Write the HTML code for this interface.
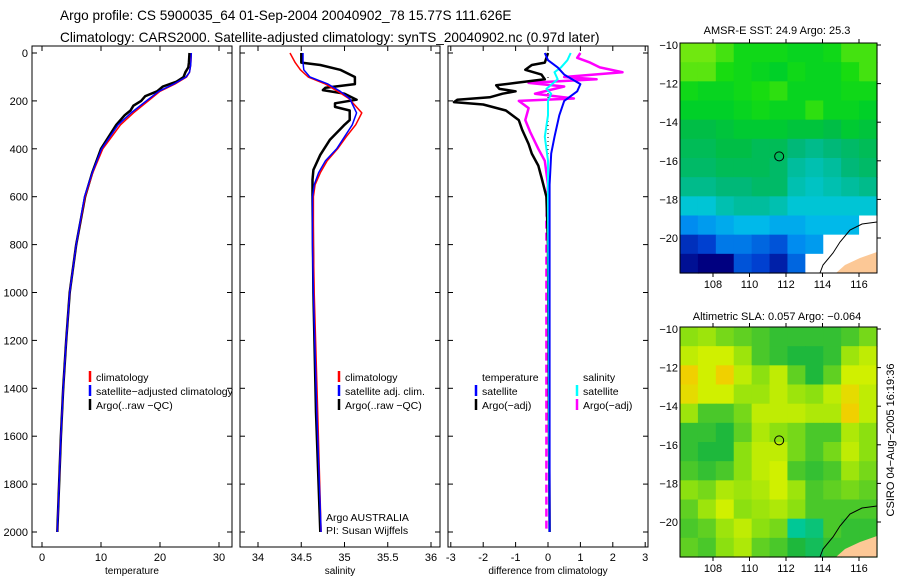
<!DOCTYPE html>
<html><head><meta charset="utf-8"><style>
body{margin:0;background:#fff;width:900px;height:580px;overflow:hidden}
svg{font-family:"Liberation Sans",sans-serif}
text{fill:#000}
</style></head><body>
<svg id="fig" width="900" height="580" viewBox="0 0 900 580">
<text x="60" y="20" font-size="13.6">Argo profile: CS 5900035_64 01-Sep-2004 20040902_78 15.77S 111.626E</text>
<text x="60" y="42" font-size="13.6">Climatology: CARS2000. Satellite-adjusted climatology: synTS_20040902.nc (0.97d later)</text>
<text x="777" y="34" font-size="11" text-anchor="middle">AMSR-E SST: 24.9 Argo: 25.3</text>
<text x="777" y="320" font-size="11" text-anchor="middle">Altimetric SLA: 0.057 Argo: −0.064</text>
<text transform="translate(894,440) rotate(-90)" font-size="11" text-anchor="middle">CSIRO 04−Aug−2005 16:19:36</text>
<g id="g"></g>
</svg>
<script>
// ---- profile data (depth in m) ----
const tDepth = [0,50,80,100,130,160,200,250,300,400,500,600,800,1000,1200,1400,1600,1800,2000];
const tClim  = [25.3,25.2,25.0,24.5,22.5,20.0,18.0,15.5,13.3,10.3,8.6,7.3,5.8,4.7,4.1,3.6,3.2,2.9,2.6];
const tSat   = [25.3,25.2,25.0,24.4,22.3,19.8,17.7,15.1,12.9,10.1,8.5,7.2,5.8,4.7,4.1,3.6,3.2,2.9,2.6];
const tArgoD = [0,40,60,80,100,120,140,160,180,200,220,240,260,300,400,500,600,800,1000,1200,1400,1600,1800,2000];
const tArgo  = [25.0,24.9,24.8,24.3,24.0,22.8,20.5,19.5,17.5,16.8,15.5,15.0,14.0,12.6,10.0,8.5,7.3,5.8,4.7,4.1,3.6,3.2,2.9,2.6];

const sClimD = [0,40,70,100,130,160,190,250,300,350,400,450,500,550,600,800,1000,1500,2000];
const sClim  = [34.37,34.43,34.49,34.58,34.78,34.92,35.05,35.20,35.13,35.02,34.92,34.80,34.72,34.66,34.64,34.64,34.65,34.69,34.73];
const sSat   = [34.52,34.52,34.53,34.60,34.81,34.95,35.06,35.14,35.09,35.00,34.91,34.78,34.70,34.65,34.63,34.63,34.64,34.68,34.73];
const sArgoD = [0,40,50,70,100,130,145,155,170,195,210,225,240,280,300,363,425,488,530,600,1000,1500,2000];
const sArgo  = [34.50,34.50,34.72,34.95,35.12,35.12,34.78,34.75,35.00,35.14,34.89,34.89,35.06,35.06,35.00,34.83,34.72,34.64,34.63,34.63,34.64,34.67,34.72];

const dBlackD = [0,40,50,70,90,110,125,135,150,160,170,185,195,205,215,240,280,320,380,420,470,520,600,800,2000];
const dBlack  = [0,-0.1,-0.5,-0.7,-0.2,-0.1,-1.0,-1.6,-1.5,-1.0,-1.4,-1.8,-2.8,-2.9,-2.0,-1.3,-0.9,-0.8,-0.6,-0.5,-0.3,-0.2,-0.05,0,0.05];
const dBlueD = [0,30,60,90,130,160,200,260,350,420,550,2000];
const dBlue  = [-0.1,0,0.3,0.5,1.0,0.9,0.5,0.35,0.2,0.1,0.05,0.05];
const dCyanD = [0,30,60,80,110,150,170,200,260,350,450,600,2000];
const dCyan  = [0.7,0.6,0.4,0.2,0.3,-0.05,0.1,0,0,-0.1,0,0,0.05];
const dMagD = [0,20,40,60,80,100,110,125,140,170,190,200,230,280,330,400,450,550];
const dMag  = [1.0,0.9,1.3,1.6,2.3,0.5,1.5,-0.6,0.5,-0.4,0.8,-0.9,-0.6,-0.7,-0.55,-0.3,-0.1,0];
const dMagDeepD = [550,700,2000];
const dMagDeep  = [0,-0.05,-0.05];

const depthTicks = [0,200,400,600,800,1000,1200,1400,1600,1800,2000];
const tTicks = [0,10,20,30];
const sTicks = [34,34.5,35,35.5,36];
const dTicks = [-3,-2,-1,0,1,2,3];

// ---- map data (rows from -10.5 to -21.5 lat, cols 106.7..116.7 lon) ----
const sstGrid = [
[26.0,26.0,25.8,25.5,25.5,25.5,25.4,25.4,25.5,25.8,25.8],
[25.9,25.9,25.6,25.5,25.4,25.3,25.5,25.4,25.4,25.6,25.8],
[25.5,25.4,25.4,25.5,25.6,25.7,25.4,25.4,25.4,25.5,25.5],
[25.3,25.3,25.3,25.4,25.5,25.4,25.4,25.7,25.4,25.4,25.3],
[25.0,25.0,25.1,25.2,25.2,25.2,25.1,25.1,25.0,25.2,25.1],
[24.9,24.9,25.0,25.0,24.9,24.9,24.7,24.6,24.7,24.8,24.9],
[24.8,24.8,24.9,24.9,24.9,24.8,24.5,24.4,24.5,24.7,24.8],
[24.6,24.6,24.7,24.7,24.8,24.8,24.4,24.3,24.4,24.5,24.6],
[24.2,24.2,24.4,24.5,24.5,24.4,24.2,24.2,24.2,24.2,24.2],
[23.7,23.8,23.9,24.0,24.0,23.9,23.9,24.0,24.0,24.0,null],
[23.2,23.3,23.6,23.6,23.5,23.4,23.7,23.8,null,null,null],
[23.0,22.9,22.9,23.4,23.3,23.1,23.5,null,null,null,null]];
const slaGrid = [
[.5,.6,.4,.3,.2,.1,.1,.1,.1,.2,.4],
[.8,.9,.9,.6,.2,.1,0,0,.1,.6,.8],
[1.2,.9,1.2,.8,.5,.8,.3,0,.3,.9,.9],
[1.1,.9,.9,.6,.6,.8,.6,.5,.8,1.1,.8],
[.6,.2,.2,.4,.8,.8,.8,.7,.7,1.2,.8],
[.1,.1,0,.3,.7,.5,.4,.2,.2,.7,.5],
[.1,0,0,.5,.8,.8,.4,.2,.4,.8,.5],
[.2,.1,.2,.5,.8,.9,.2,.1,.2,.6,.4],
[.5,.4,.7,.6,.7,.9,.6,.2,.3,.4,.3],
[.3,.6,.9,.5,.6,.7,.5,.2,.2,.2,.2],
[.2,.3,.6,.8,.5,.4,-.3,-.2,.2,.1,.1],
[.3,.2,.5,.7,.3,.2,0,-.1,.1,.1,.1]];
const lonTicks = [108,110,112,114,116];
const latTicks = [-10,-12,-14,-16,-18,-20];
const floatLon = 111.626, floatLat = -15.77;

const NS='http://www.w3.org/2000/svg';
const G=document.getElementById('g');
function mk(tag,attrs,parent){const e=document.createElementNS(NS,tag);for(const k in attrs)e.setAttribute(k,attrs[k]);(parent||G).appendChild(e);return e;}
const yD = d => 53 + d*0.2395;

function panel(x0,name,xs,ticks,fmt,title){
  const r=mk('rect',{x:x0,y:46,width:200,height:501,fill:'none',stroke:'#000','stroke-width':1});
  
  
  ticks.forEach(v=>{
    const x=xs(v);
    mk('line',{x1:x,y1:46,x2:x,y2:51,stroke:'#000'});
    mk('line',{x1:x,y1:547,x2:x,y2:542,stroke:'#000'});
    const t=mk('text',{x:x,y:561,'font-size':11,'text-anchor':'middle'});t.textContent=fmt(v);
    
    
  });
  depthTicks.forEach(d=>{
    mk('line',{x1:x0,y1:yD(d),x2:x0+5,y2:yD(d),stroke:'#000'});
    mk('line',{x1:x0+200,y1:yD(d),x2:x0+195,y2:yD(d),stroke:'#000'});
  });
  const tt=mk('text',{x:x0+100,y:574,'font-size':10,'text-anchor':'middle'});tt.textContent=title;
  
  
}
function line(xs,vals,depths,color,w,name,dash){
  const p=vals.map((v,i)=>xs(v).toFixed(1)+','+yD(depths[i]).toFixed(1)).join(' ');
  const e=mk('polyline',{points:p,fill:'none',stroke:color,'stroke-width':w,'stroke-linejoin':'round'});
  if(dash)e.setAttribute('stroke-dasharray',dash);
  
  
}
function legend(x,y,color,label,name){
  if(color){mk('line',{x1:x,y1:y-6,x2:x,y2:y+5,stroke:color,'stroke-width':2.5});}
  const t=mk('text',{x:x+6,y:y+4,'font-size':10.5});t.textContent=label;
  
  
}

depthTicks.forEach(d=>{
  const t=mk('text',{x:28,y:yD(d)+4,'font-size':11,'text-anchor':'end'});t.textContent=d;
  
  
});

// Panel 1 temperature
const xT=v=>42+v*5.9;
panel(32,'temperature-panel',xT,tTicks,v=>v,'temperature');
line(xT,tArgo,tArgoD,'#000',2.5,'temp-argo-line');
line(xT,tClim,tDepth,'#f00',1.5,'temp-climatology-line');
line(xT,tSat,tDepth,'#00f',1.5,'temp-satellite-line');
legend(90,377,'#f00','climatology','legend-climatology');
legend(90,391,'#00f','satellite−adjusted climatology','legend-satellite');
legend(90,405,'#000','Argo(..raw −QC)','legend-argo');

// Panel 2 salinity
const xS=v=>258+(v-34)*86.5;
panel(240,'salinity-panel',xS,sTicks,v=>v,'salinity');
line(xS,sArgo,sArgoD,'#000',2.5,'sal-argo-line');
line(xS,sClim,sClimD,'#f00',1.5,'sal-climatology-line');
line(xS,sSat,sClimD,'#00f',1.5,'sal-satellite-line');
legend(339,377,'#f00','climatology','legend2-climatology');
legend(339,391,'#00f','satellite adj. clim.','legend2-satellite');
legend(339,405,'#000','Argo(..raw −QC)','legend2-argo');
legend(320,517,null,'Argo AUSTRALIA','float-owner-label');
legend(320,530,null,'PI: Susan Wijffels','pi-label');

// Panel 3 differences
const xDf=v=>548+v*32.4;
panel(448,'difference-panel',xDf,dTicks,v=>v,'difference from climatology');
mk('line',{x1:xDf(0),y1:yD(100),x2:xDf(0),y2:yD(600),stroke:'#000','stroke-dasharray':'1,3'});
line(xDf,dMagDeep,dMagDeepD,'#f0f',2.5,'diff-argo-salinity-deep-line','8,4');
line(xDf,dMag,dMagD,'#f0f',2.5,'diff-argo-salinity-line');
line(xDf,dBlack,dBlackD,'#000',2.5,'diff-argo-temp-line');
line(xDf,dCyan,dCyanD,'#0ff',2,'diff-sat-salinity-line');
line(xDf,dBlue,dBlueD,'#00f',2,'diff-sat-temp-line');
legend(476,377,null,'temperature','legend3-temp-header');
legend(476,391,'#00f','satellite','legend3-temp-satellite');
legend(476,405,'#000','Argo(−adj)','legend3-temp-argo');
legend(577,377,null,'salinity','legend3-sal-header');
legend(577,391,'#0ff','satellite','legend3-sal-satellite');
legend(577,405,'#f0f','Argo(−adj)','legend3-sal-argo');

// ---- maps ----
function lerpColor(stops,v){
  if(v<=stops[0][0])return stops[0][1];
  for(let i=1;i<stops.length;i++){if(v<=stops[i][0]){const a=stops[i-1],b=stops[i],f=(v-a[0])/(b[0]-a[0]);
    return a[1].map((x,k)=>Math.round(x+(b[1][k]-x)*f));}}
  return stops[stops.length-1][1];
}
const sstStops=[[22.9,[0,0,128]],[23.3,[0,64,208]],[23.7,[0,140,240]],[24.1,[0,200,232]],[24.4,[0,192,176]],[24.7,[0,184,120]],[25.0,[0,190,70]],[25.3,[0,208,40]],[25.6,[24,220,16]],[26.0,[112,232,16]]];
const slaStops=[[-0.3,[0,200,150]],[0,[30,184,60]],[0.5,[140,224,16]],[0.9,[208,240,0]],[1.2,[240,208,0]]];
function map(y0,yRef,grid,stops,name){
  const x0=680,w=197,h=230;
  const xL=lon=>713+(lon-108)*18.25;
  const yL=lat=>yRef+(-10-lat)*19.3;
  const cw=w/grid[0].length, ch=h/grid.length;
  grid.forEach((row,i)=>row.forEach((v,j)=>{
    const c=v===null?[255,255,255]:lerpColor(stops,v);
    const r=mk('rect',{x:x0+j*cw,y:y0+i*ch,width:cw+0.6,height:ch+0.6,fill:'rgb('+c.join(',')+')'});
    
    
  }));
  const b=y0+h, k=y0-43;
  const land=mk('polygon',{points:`877,${252+k} 860,${258+k} 845,${265+k} 836,${b} 877,${b}`,fill:'#fcc896'});
  
  
  const coast=mk('polyline',{points:`877,${222+k} 862,${224+k} 850,${230+k} 840,${242+k} 833,${253+k} 823,${265+k} 820,${b}`,fill:'none',stroke:'#000','stroke-width':1});
  
  
  const fr=mk('rect',{x:x0,y:y0,width:w,height:h,fill:'none',stroke:'#000'});
  
  
  lonTicks.forEach(l=>{const x=xL(l);
    mk('line',{x1:x,y1:y0,x2:x,y2:y0-4,stroke:'#000'});mk('line',{x1:x,y1:b,x2:x,y2:b+4,stroke:'#000'});
    const t=mk('text',{x:x,y:b+15,'font-size':11,'text-anchor':'middle'});t.textContent=l;
    
    });
  latTicks.forEach(l=>{const y=yL(l);
    mk('line',{x1:x0+w,y1:y,x2:x0+w+4,y2:y,stroke:'#000'});
    const t=mk('text',{x:x0-2,y:y+4,'font-size':11,'text-anchor':'end'});t.textContent='−'+(-l);
    
    });
  const m=mk('circle',{cx:xL(floatLon),cy:yL(floatLat),r:4.5,fill:'none',stroke:'#000','stroke-width':1});
  
  
}
map(43,45,sstGrid,sstStops,'sst-map');
map(327,329,slaGrid,slaStops,'sla-map');
</script>
</body></html>
